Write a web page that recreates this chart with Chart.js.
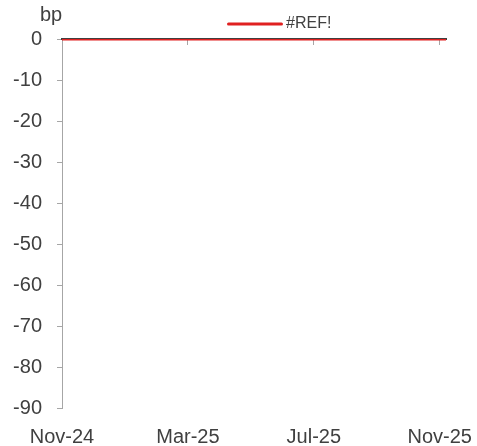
<!DOCTYPE html>
<html>
<head>
<meta charset="utf-8">
<script src="https://cdn.jsdelivr.net/npm/chart.js@4/dist/chart.umd.min.js"></script>
<style>
  html, body { margin: 0; padding: 0; background: #ffffff; }
  #wrap { width: 477px; height: 446px; }
</style>
</head>
<body>
<div id="wrap"><canvas id="chart" width="477" height="446"></canvas></div>
<script>
// Series and axis content
const seriesName = '#REF!';
const unitLabel = 'bp';
const dates = [
  '2024-11-01', '2024-12-01', '2025-01-01', '2025-02-01', '2025-03-01',
  '2025-04-01', '2025-05-01', '2025-06-01', '2025-07-01', '2025-08-01',
  '2025-09-01', '2025-10-01', '2025-11-01', '2025-11-07'
];
const values = [0, 0, 0, 0, 0, 0, 0, 0, 0, 0, 0, 0, 0, 0];
const xTickDates = ['2024-11-01', '2025-03-01', '2025-07-01', '2025-11-01'];
const xTickLabels = ['Nov-24', 'Mar-25', 'Jul-25', 'Nov-25'];
const yMin = -90;
const yMax = 0;
const yStep = 10;

// Dates are placed on a month-based linear axis starting at the first date.
const origin = dates[0].split('-').map(Number);
function monthOffset(d) {
  const [y, m, day] = d.split('-').map(Number);
  return (y - origin[0]) * 12 + (m - origin[1]) + (day - 1) / 30;
}
const xMax = monthOffset(dates[dates.length - 1]);
const tickValues = xTickDates.map(monthOffset);
const setDateTicks = (scale) => { scale.ticks = tickValues.map(v => ({ value: v })); };

const TEXT = '#404040';
const AXIS_GREY = '#a6a6a6';
const RED = '#e02020';
const FONT = "'Liberation Sans', Arial, sans-serif";

// Unit caption and single-entry legend
const captions = {
  id: 'captions',
  afterDraw(chart) {
    const ctx = chart.ctx;
    const ds = chart.data.datasets[0];
    ctx.save();
    ctx.fillStyle = TEXT;
    ctx.font = '20px ' + FONT;
    ctx.textAlign = 'left';
    ctx.textBaseline = 'alphabetic';
    ctx.fillText(unitLabel, 40, 21);

    ctx.strokeStyle = ds.borderColor;
    ctx.lineWidth = 3;
    ctx.lineCap = 'round';
    ctx.beginPath();
    ctx.moveTo(228.5, 24);
    ctx.lineTo(281.5, 24);
    ctx.stroke();

    ctx.font = '16px ' + FONT;
    ctx.textBaseline = 'middle';
    ctx.fillText(ds.label, 286, 24);
    ctx.restore();
  }
};

new Chart(document.getElementById('chart'), {
  type: 'line',
  data: {
    datasets: [{
      label: seriesName,
      data: dates.map((d, i) => ({ x: monthOffset(d), y: values[i] })),
      borderColor: RED,
      backgroundColor: RED,
      borderWidth: 3,
      pointRadius: 0,
      tension: 0,
      xAxisID: 'x',
      yAxisID: 'y'
    }]
  },
  options: {
    responsive: false,
    devicePixelRatio: 1,
    animation: false,
    layout: { padding: { top: 39, right: 31, left: 0, bottom: 0 } },
    plugins: {
      legend: { display: false },
      tooltip: { enabled: false }
    },
    scales: {
      x: {
        type: 'linear',
        position: 'bottom',
        min: 0,
        max: xMax,
        afterBuildTicks: setDateTicks,
        afterFit: (s) => { s.height = 38; s.paddingLeft = 0; s.paddingRight = 0; },
        grid: { display: false, drawTicks: false },
        border: { display: false },
        ticks: {
          autoSkip: false,
          maxRotation: 0,
          padding: 17,
          color: TEXT,
          font: { family: FONT, size: 20 },
          callback: (v, i) => xTickLabels[i]
        }
      },
      x0: {
        axis: 'x',
        type: 'linear',
        position: { y: 0 },
        min: 0,
        max: xMax,
        z: 1,
        afterBuildTicks: setDateTicks,
        afterFit: (s) => { s.paddingLeft = 0; s.paddingRight = 0; },
        grid: { drawOnChartArea: false, drawTicks: true, tickLength: 5, color: AXIS_GREY, lineWidth: 1 },
        border: { display: true, color: TEXT, width: 2 },
        ticks: { display: false }
      },
      y: {
        type: 'linear',
        min: yMin,
        max: yMax,
        afterFit: (s) => { s.width = 62; },
        grid: { drawOnChartArea: false, drawTicks: true, tickLength: 5, color: AXIS_GREY, lineWidth: 1 },
        border: { display: true, color: AXIS_GREY, width: 1 },
        ticks: {
          stepSize: yStep,
          padding: 15,
          color: TEXT,
          font: { family: FONT, size: 20 }
        }
      }
    }
  },
  plugins: [captions]
});
</script>
</body>
</html>
